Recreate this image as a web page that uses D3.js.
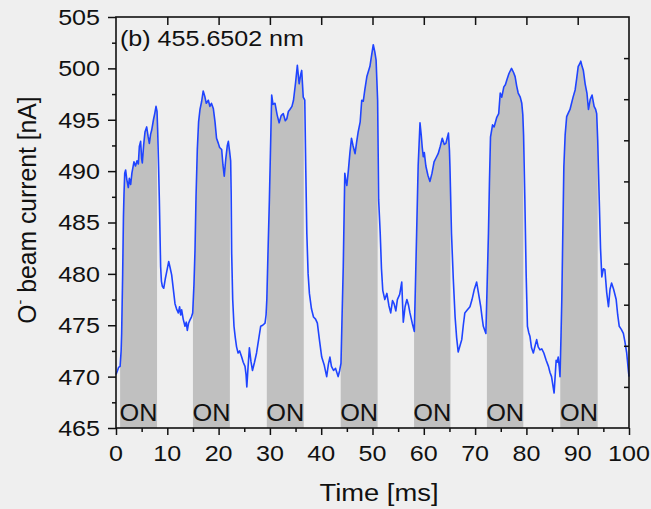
<!DOCTYPE html>
<html>
<head>
<meta charset="utf-8">
<script src="https://cdn.jsdelivr.net/npm/d3@7"></script>
<style>
  body { margin: 0; background: #efefef; }
  svg { display: block; font-family: "Liberation Sans", Arial, sans-serif; }
</style>
</head>
<body>
<svg id="chart" width="651" height="509"></svg>
<script>
// O- beam current vs time
const timeMs = [
  0.0,0.3,0.5,0.8,1.0,1.1,1.3,1.45,1.56,1.7,1.88,2.1,2.4,2.6,2.86,3.1,3.5,3.8,4.1,4.35,4.55,4.8,5.0,5.13,5.4,5.65,5.98,6.25,6.5,6.75,6.96,7.3,7.55,7.8,8.0,8.12,8.3,8.45,8.7,8.85,9.03,9.3,9.6,9.88,10.27,10.55,10.85,11.2,11.5,11.8,12.15,12.4,12.6,12.8,13.1,13.45,13.7,13.9,14.15,14.4,14.7,14.95,
  15.2,15.4,15.6,15.85,16.1,16.37,16.7,17.0,17.3,17.6,18.0,18.3,18.6,18.97,19.3,19.6,19.95,20.2,20.6,20.85,21.1,21.4,21.7,21.9,22.15,22.35,22.45,22.55,22.75,23.0,23.25,23.5,23.8,24.1,24.5,24.8,25.15,25.35,25.5,25.75,26.0,26.3,26.6,27.0,27.4,27.8,28.2,28.6,29.05,29.25,
  29.4,29.65,29.9,30.2,30.35,30.6,31.0,31.4,31.8,32.2,32.6,33.0,33.3,33.6,33.9,34.3,34.6,35.0,35.35,35.7,36.0,36.2,36.5,36.8,37.0,37.2,37.45,37.7,38.1,38.5,38.9,39.25,39.7,40.1,40.6,41.07,41.4,41.7,42.0,42.4,42.8,43.3,43.6,43.86,
  44.05,44.3,44.6,44.8,45.0,45.3,45.6,45.9,46.2,46.6,46.9,47.2,47.6,47.9,48.2,48.5,48.9,49.5,49.8,50.15,50.45,50.7,51.0,51.1,51.2,51.5,51.75,52.0,52.4,52.8,53.2,53.55,53.9,54.2,54.55,54.85,55.3,55.7,56.0,56.35,56.7,57.0,57.3,57.75,58.15,
  58.35,58.6,58.9,59.26,59.5,59.7,59.9,60.1,60.4,60.8,61.2,61.6,62.0,62.4,62.8,63.2,63.6,64.0,64.3,64.55,64.8,65.0,65.1,65.4,65.75,66.1,66.4,66.7,67.05,67.4,67.7,68.0,68.5,69.0,69.4,69.8,70.3,70.7,71.1,71.35,71.6,72.1,
  72.35,72.6,72.8,73.0,73.4,73.7,74.2,74.6,74.9,75.2,75.6,75.9,76.2,76.6,77.1,77.5,77.8,78.1,78.4,78.8,79.1,79.3,79.45,79.7,79.95,80.2,80.45,80.7,81.0,81.35,81.7,82.0,82.3,82.65,83.0,83.4,83.85,84.3,84.6,84.9,85.15,85.4,85.6,85.8,86.0,86.2,86.4,86.55,
  86.75,86.9,87.1,87.3,87.55,87.85,88.2,88.5,88.8,89.1,89.5,89.8,90.1,90.35,90.6,90.85,91.1,91.45,91.8,92.1,92.45,92.8,93.2,93.5,93.7,93.9,94.2,94.45,94.7,95.0,95.3,95.65,96.0,96.3,96.6,97.0,97.5,97.8,98.1,98.5,98.9,99.2,99.55,99.8,100.0
];
const currentNA = [
  470.2,470.6,470.9,471.0,472.5,474.2,480.0,485.5,487.8,489.8,490.1,489.2,488.4,489.3,488.7,489.8,490.9,490.5,491.0,490.7,492.4,492.9,491.2,490.8,492.6,493.8,494.3,493.4,492.7,493.6,494.0,495.0,495.6,496.3,495.8,494.0,490.5,487.2,480.7,479.3,478.8,478.6,479.5,480.2,481.2,480.6,479.9,478.4,477.1,476.6,476.2,476.8,476.0,476.5,475.6,474.9,475.3,474.5,475.2,475.5,475.8,476.2,
  479.0,482.3,487.5,492.1,494.8,496.0,496.8,497.8,497.3,496.6,496.9,496.3,496.6,496.1,494.8,493.2,492.7,492.3,492.1,490.6,489.5,491.2,492.5,492.9,491.9,491.0,487.8,482.0,477.5,474.9,473.8,472.9,472.3,472.5,471.9,471.4,471.0,470.2,469.0,471.0,472.8,471.5,470.6,471.4,472.3,473.6,474.9,475.0,475.2,476.0,
  477.5,482.5,487.2,494.0,497.4,496.5,496.6,495.5,494.7,495.4,495.6,494.9,495.1,495.8,496.0,496.3,496.9,498.6,500.3,498.5,499.4,499.8,497.2,496.9,490.0,483.9,480.0,478.1,476.6,475.8,475.6,475.2,473.4,471.9,471.1,470.0,471.2,471.9,471.0,470.6,470.8,470.0,470.6,471.3,
  475.5,480.7,489.8,489.1,488.6,490.1,491.8,493.2,492.5,491.7,492.8,493.8,494.8,496.9,496.8,497.9,499.2,500.2,501.2,502.3,501.6,500.8,496.9,492.0,487.2,484.0,480.5,478.4,477.5,478.1,476.9,476.2,477.4,477.1,476.4,477.5,478.0,479.2,475.3,476.8,477.5,477.0,476.2,475.2,474.4,
  478.5,483.9,490.5,494.7,493.5,492.3,491.4,491.8,490.5,489.6,489.0,489.8,490.9,491.3,491.7,492.4,493.2,492.6,492.7,493.2,493.7,492.0,490.4,483.9,479.5,475.8,473.8,472.4,473.0,473.6,475.0,476.2,476.5,476.8,477.5,478.4,479.2,478.0,476.8,475.8,474.9,474.2,
  479.0,483.9,489.0,493.3,494.5,494.3,495.2,495.6,497.6,497.2,498.2,498.4,498.9,499.5,500.0,499.6,499.2,498.3,497.6,497.2,496.6,495.5,493.5,487.2,480.0,474.9,474.3,473.9,472.8,472.3,473.0,473.6,472.9,472.6,472.7,472.3,471.6,471.0,470.4,470.0,469.2,468.4,470.0,471.6,471.4,471.9,471.0,470.0,
  474.0,477.5,484.0,490.4,493.5,495.3,495.7,496.0,496.6,497.2,497.9,499.0,500.2,500.4,500.7,500.2,499.8,498.5,497.6,496.0,497.0,497.4,496.3,496.0,495.6,493.0,487.2,482.5,479.7,480.5,480.4,478.2,476.8,478.5,479.1,478.5,477.5,476.0,474.9,474.6,474.2,473.4,472.3,471.0,470.0
];

// laser ON windows (ms)
const onStart = [0.8, 15.0, 29.4, 43.8, 58.1, 72.3, 86.6];
const onEnd   = [8.0, 22.2, 36.6, 51.0, 65.2, 79.4, 93.9];

const xMajor = [0, 10, 20, 30, 40, 50, 60, 70, 80, 90, 100];
const xMinor = [5, 15, 25, 35, 45, 55, 65, 75, 85, 95];
const topTicks = [10, 20, 30, 40, 50, 60, 70, 80, 90];
const yMajor = [465, 470, 475, 480, 485, 490, 495, 500, 505];
const yMinor = [467.5, 472.5, 477.5, 482.5, 487.5, 492.5, 497.5, 502.5];
const rightTicks = [469, 473, 477, 481, 485, 489, 493, 497, 501];

const plotL = 116, plotR = 629, plotT = 17, plotB = 428;
const stretch = 1.14;

const svg = d3.select("#chart");

const x = d3.scaleLinear().domain([0, 100]).range([plotL, plotR]);
const y = d3.scaleLinear().domain([465, 505]).range([plotB, plotT]);

const pts = timeMs.map((t, i) => ({ t: t, v: currentNA[i] }));

svg.append("rect").attr("width", 651).attr("height", 509).attr("fill", "#efefef");

// clip to ON windows
const clip = svg.append("defs").append("clipPath").attr("id", "onClip");
clip.selectAll("rect")
  .data(onStart)
  .enter()
  .append("rect")
  .attr("x", d => x(d))
  .attr("y", plotT)
  .attr("width", (d, i) => x(onEnd[i]) - x(d))
  .attr("height", plotB - plotT);

const area = d3.area()
  .x(d => x(d.t))
  .y0(y(465))
  .y1(d => y(d.v));

svg.append("path")
  .datum(pts)
  .attr("d", area)
  .attr("fill", "#c0c0c0")
  .attr("clip-path", "url(#onClip)");

const line = d3.line()
  .x(d => x(d.t))
  .y(d => y(d.v));

svg.append("path")
  .datum(pts)
  .attr("d", line)
  .attr("fill", "none")
  .attr("stroke", "#1f44ff")
  .attr("stroke-width", 1.6)
  .attr("stroke-linejoin", "round");

// ON labels
svg.append("g")
  .selectAll("text")
  .data(onStart)
  .enter()
  .append("text")
  .attr("transform", (d, i) => `translate(${x((d + onEnd[i]) / 2)},421) scale(1.1,1)`)
  .attr("text-anchor", "middle")
  .style("font-size", "23px")
  .attr("fill", "#111")
  .text("ON");

// axes
function styleAxis(g) {
  g.select(".domain").remove();
  g.selectAll("line").attr("stroke", "#111").attr("stroke-width", 1.5);
  g.selectAll("text").remove();
}

svg.append("g").attr("transform", `translate(0,${plotB})`)
  .call(d3.axisBottom(x).tickValues(xMajor).tickSize(7).tickSizeOuter(0)).call(styleAxis);
svg.append("g").attr("transform", `translate(0,${plotB})`)
  .call(d3.axisBottom(x).tickValues(xMinor).tickSize(4).tickSizeOuter(0)).call(styleAxis);
svg.append("g").attr("transform", `translate(0,${plotT})`)
  .call(d3.axisBottom(x).tickValues(topTicks).tickSize(8).tickSizeOuter(0)).call(styleAxis);
svg.append("g").attr("transform", `translate(${plotL},0)`)
  .call(d3.axisLeft(y).tickValues(yMajor).tickSize(8).tickSizeOuter(0)).call(styleAxis);
svg.append("g").attr("transform", `translate(${plotL},0)`)
  .call(d3.axisLeft(y).tickValues(yMinor).tickSize(4).tickSizeOuter(0)).call(styleAxis);
svg.append("g").attr("transform", `translate(${plotR},0)`)
  .call(d3.axisLeft(y).tickValues(rightTicks).tickSize(5).tickSizeOuter(0)).call(styleAxis);

svg.append("rect")
  .attr("x", plotL).attr("y", plotT)
  .attr("width", plotR - plotL).attr("height", plotB - plotT)
  .attr("fill", "none")
  .attr("stroke", "#111")
  .attr("stroke-width", 1.6);

// tick labels
svg.append("g")
  .selectAll("text")
  .data(xMajor)
  .enter()
  .append("text")
  .attr("transform", d => `translate(${x(d)},461) scale(${stretch},1)`)
  .attr("text-anchor", "middle")
  .style("font-size", "22px")
  .attr("fill", "#111")
  .text(d => d);

svg.append("g")
  .selectAll("text")
  .data(yMajor)
  .enter()
  .append("text")
  .attr("transform", d => `translate(100,${y(d)}) scale(${stretch},1)`)
  .attr("text-anchor", "end")
  .attr("dy", "0.36em")
  .style("font-size", "22px")
  .attr("fill", "#111")
  .text(d => d);

// titles
svg.append("text")
  .attr("transform", `translate(120,46) scale(${stretch},1)`)
  .style("font-size", "22px")
  .attr("fill", "#111")
  .text("(b) 455.6502 nm");

svg.append("text")
  .attr("transform", `translate(379,501) scale(${stretch},1)`)
  .attr("text-anchor", "middle")
  .style("font-size", "24px")
  .attr("fill", "#111")
  .text("Time [ms]");

const yTitle = svg.append("text")
  .attr("transform", "translate(36,210) rotate(-90) scale(1.03,1.1)")
  .attr("text-anchor", "middle")
  .style("font-size", "24px")
  .attr("fill", "#111");
yTitle.append("tspan").text("O");
yTitle.append("tspan").attr("dy", -10).style("font-size", "14px").text("-");
yTitle.append("tspan").attr("dy", 10).text(" beam current [nA]");
</script>
</body>
</html>
